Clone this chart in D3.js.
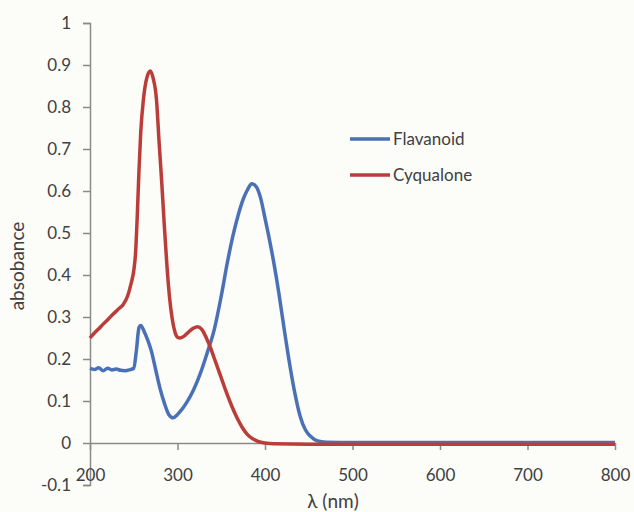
<!DOCTYPE html>
<html>
<head>
<meta charset="utf-8">
<script src="https://cdn.jsdelivr.net/npm/d3@7"></script>
<style>
  body { margin: 0; background: #fcfcf9; }
  svg { display: block; }
  text { font-family: Lato, "Open Sans", sans-serif; fill: #404040; }
</style>
</head>
<body>
<div id="chart"></div>
<script>
// wavelength (nm) and absorbance
const flavWl = [200, 205, 210, 215, 220, 225, 230, 235, 240, 245, 250, 253, 256, 258, 262, 266, 270, 275, 280, 285, 290, 295, 300, 305, 310, 318, 326, 334, 342, 350, 357, 363, 369, 375, 380, 385, 390, 395, 400, 405, 410, 416, 422, 428, 434, 440, 446, 452, 460, 470, 500, 600, 700, 800]
const flavAbs = [0.178, 0.175, 0.179, 0.172, 0.178, 0.174, 0.176, 0.173, 0.172, 0.174, 0.178, 0.22, 0.275, 0.28, 0.265, 0.245, 0.22, 0.175, 0.13, 0.095, 0.068, 0.06, 0.068, 0.08, 0.095, 0.125, 0.165, 0.215, 0.27, 0.35, 0.43, 0.49, 0.54, 0.58, 0.603, 0.617, 0.61, 0.583, 0.535, 0.485, 0.43, 0.355, 0.27, 0.19, 0.12, 0.065, 0.032, 0.016, 0.005, 0.002, 0.001, 0.001, 0.001, 0.001]

const cyqWl = [200, 205, 210, 215, 220, 226, 232, 238, 243, 247, 250, 252, 254, 256, 258, 261, 265, 269, 272, 276, 279, 282, 285, 288, 291, 294, 297, 300, 303, 308, 313, 318, 323, 328, 333, 338, 344, 350, 356, 362, 368, 374, 380, 386, 392, 400, 410, 450, 500, 600, 700, 800]
const cyqAbs = [0.25, 0.262, 0.272, 0.283, 0.293, 0.306, 0.318, 0.33, 0.35, 0.38, 0.41, 0.45, 0.54, 0.65, 0.74, 0.817, 0.87, 0.886, 0.87, 0.817, 0.715, 0.62, 0.515, 0.42, 0.345, 0.295, 0.265, 0.252, 0.25, 0.255, 0.265, 0.273, 0.277, 0.27, 0.25, 0.225, 0.19, 0.155, 0.12, 0.088, 0.06, 0.037, 0.02, 0.01, 0.004, 0.0, -0.002, -0.003, -0.003, -0.003, -0.003, -0.003]

const xTicks = [200, 300, 400, 500, 600, 700, 800]
const yTicks = [-0.1, 0, 0.1, 0.2, 0.3, 0.4, 0.5, 0.6, 0.7, 0.8, 0.9, 1]

const series = [
  { name: 'Flavanoid', wl: flavWl, abs: flavAbs, color: '#4a70b6' },
  { name: 'Cyqualone', wl: cyqWl, abs: cyqAbs, color: '#bb3d3a' }
]

const width = 634
const height = 512
const margin = { top: 23, right: 19, bottom: 27, left: 90 }

const x = d3.scaleLinear().domain([200, 800]).range([margin.left, width - margin.right])
const y = d3.scaleLinear().domain([-0.1, 1]).range([height - margin.bottom, margin.top])

const svg = d3.select('#chart')
  .append('svg')
  .attr('width', width)
  .attr('height', height)

const axisColor = '#8a8a8a'

// y axis
const yAxis = svg.append('g')
  .attr('transform', 'translate(' + x(200) + ',0)')
  .call(d3.axisLeft(y).tickValues(yTicks).tickSize(7).tickPadding(12)
    .tickFormat(d => String(d)))
yAxis.select('.domain').attr('stroke', axisColor).attr('stroke-width', 1.5)
yAxis.selectAll('.tick line').attr('stroke', axisColor).attr('stroke-width', 1.5)
yAxis.selectAll('.tick text').style('font-size', '17px').attr('fill', '#404040')

// x axis along zero line
const xAxis = svg.append('g')
  .attr('transform', 'translate(0,' + y(0) + ')')
  .call(d3.axisBottom(x).tickValues(xTicks).tickSize(7).tickSizeOuter(0).tickPadding(0)
    .tickFormat(d3.format('d')))
xAxis.select('.domain').attr('stroke', axisColor).attr('stroke-width', 1.5)
xAxis.selectAll('.tick line').attr('stroke', axisColor).attr('stroke-width', 1.5)
xAxis.selectAll('.tick text')
  .style('font-size', '17px')
  .attr('fill', '#404040')
  .attr('y', 0)
  .attr('dy', '0')
  .attr('transform', 'translate(0,' + (y(-0.1) - y(0) - 4) + ')')

// axis titles
svg.append('text')
  .attr('transform', 'translate(24,' + 266 + ') rotate(-90)')
  .attr('text-anchor', 'middle')
  .style('font-size', '19px')
  .text('absobance')

svg.append('text')
  .attr('x', 333)
  .attr('y', 508)
  .attr('text-anchor', 'middle')
  .style('font-size', '19px')
  .text('λ (nm)')

// curves
const line = d3.line()
  .x(d => x(d[0]))
  .y(d => y(d[1]))
  .curve(d3.curveMonotoneX)

series.forEach(s => {
  svg.append('path')
    .datum(s.wl.map((w, i) => [w, s.abs[i]]))
    .attr('fill', 'none')
    .attr('stroke', s.color)
    .attr('stroke-width', 3.5)
    .attr('stroke-linejoin', 'round')
    .attr('d', line)
})

// legend
const legend = svg.append('g').attr('transform', 'translate(350,139)')
series.forEach((s, i) => {
  const g = legend.append('g').attr('transform', 'translate(0,' + i * 36 + ')')
  g.append('line')
    .attr('x1', 0).attr('x2', 40)
    .attr('stroke', s.color)
    .attr('stroke-width', 3.5)
  g.append('text')
    .attr('x', 43)
    .attr('y', 6)
    .style('font-size', '17px')
    .text(s.name)
})
</script>
</body>
</html>
